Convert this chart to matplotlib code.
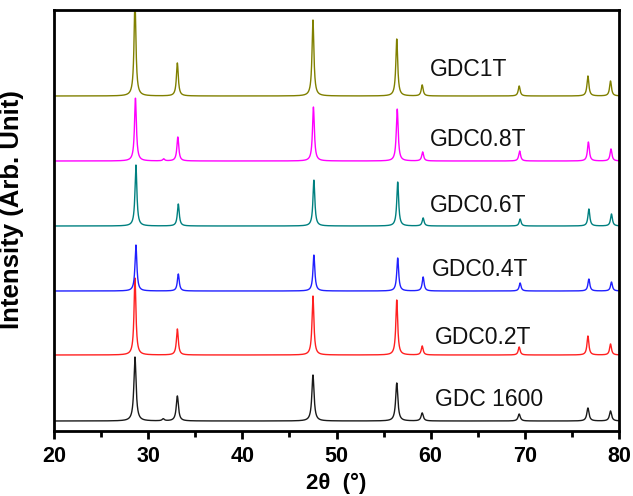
import numpy as np
import matplotlib
matplotlib.use("Agg")
import matplotlib.pyplot as plt
from matplotlib.ticker import MultipleLocator

plt.rcParams['font.family'] = ['Liberation Sans', 'DejaVu Sans']

# Reflection positions (2theta, degrees)
peak_pos = [28.6, 31.6, 33.1, 47.5, 56.4, 59.1, 69.4, 76.7, 79.1]

series_names = ["GDC 1600", "GDC0.2T", "GDC0.4T", "GDC0.6T", "GDC0.8T", "GDC1T"]
series_colors = ["#1a1a1a", "#ff2020", "#2020ff", "#008080", "#ff00ff", "#808000"]
# vertical offsets (arbitrary units)
offsets = [10, 76, 140, 205, 270, 335]
# per-series peak shift (degrees)
shifts = [0.0, 0.0, 0.1, 0.1, 0.05, 0.0]

# peak heights (arbitrary units), in order of peak_pos
h_gdc1600 = [64, 2, 25, 46, 38, 8, 7, 13, 10]
h_gdc02 = [77, 0, 26, 59, 55, 9, 8, 19, 11]
h_gdc04 = [46, 0, 17, 36, 33, 14, 8, 12, 9]
h_gdc06 = [61, 0, 22, 46, 44, 8, 7, 17, 12]
h_gdc08 = [63, 2, 24, 54, 52, 9, 10, 19, 12]
h_gdc1 = [95, 0, 33, 76, 57, 11, 10, 20, 15]
heights = [h_gdc1600, h_gdc02, h_gdc04, h_gdc06, h_gdc08, h_gdc1]
widths = [0.14, 0.12, 0.12, 0.12, 0.12, 0.12]

fig = plt.figure(figsize=(6.33, 4.96), dpi=100)
ax = fig.add_axes([54 / 633, 1 - 431 / 496, (619 - 54) / 633, (431 - 10) / 496])

x = np.linspace(20, 80, 4000)
for name, col, off, sh, hs, w in zip(series_names, series_colors, offsets, shifts, heights, widths):
    y = np.full_like(x, float(off))
    for p, h in zip(peak_pos, hs):
        y += h * w**2 / ((x - p - sh) ** 2 + w**2)
    ax.plot(x, y, color=col, lw=1.0)

label_y = [32, 94, 161, 226, 291, 361]
label_x = [435, 435, 432, 430, 430, 430]
for name, lx, ly in zip(series_names, label_x, label_y):
    ax.text(20 + (lx - 54) / (565 / 60), ly, name, fontsize=16.5, va='center', ha='left', color='#111111')

ax.set_xlim(20, 80)
ax.set_ylim(0, 421)
ax.set_yticks([])
ax.xaxis.set_major_locator(MultipleLocator(10))
ax.xaxis.set_minor_locator(MultipleLocator(5))
ax.tick_params(axis='x', which='major', direction='out', length=6, width=2, labelsize=15.5, pad=5)
ax.tick_params(axis='x', which='minor', direction='out', length=4, width=2)
for lab in ax.get_xticklabels():
    lab.set_fontweight('bold')
for s in ax.spines.values():
    s.set_linewidth(2)

ax.set_xlabel("2θ  (°)", fontsize=16, fontweight='bold', labelpad=4)
ax.set_ylabel("Intensity (Arb. Unit)", fontsize=18.5, fontweight='bold')
ax.yaxis.set_label_coords(-0.053, 0.527)

fig.savefig("out.png", dpi=100)
